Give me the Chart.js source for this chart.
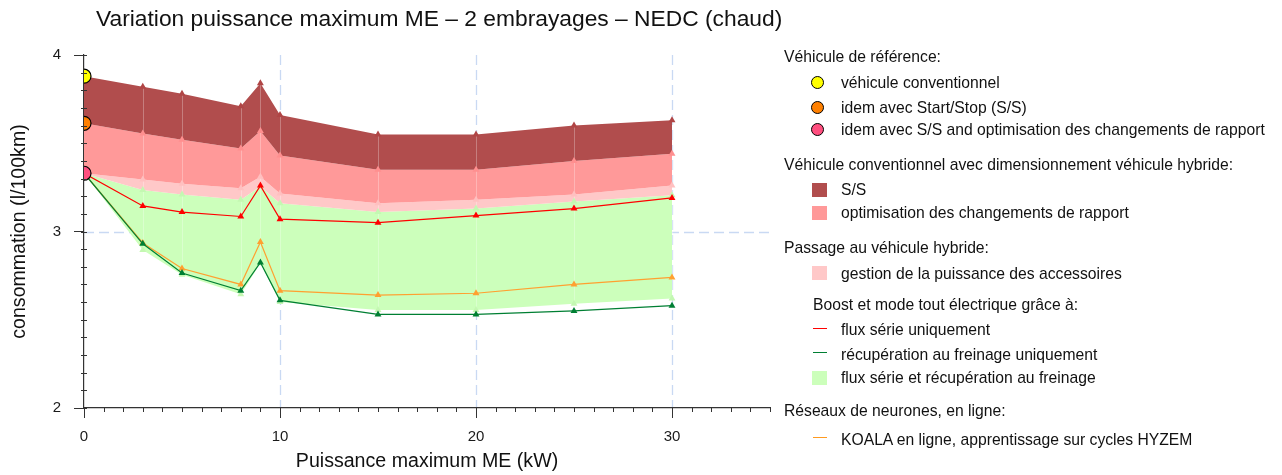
<!DOCTYPE html>
<html>
<head>
<meta charset="utf-8">
<script src="https://cdn.jsdelivr.net/npm/chart.js@4.4.1/dist/chart.umd.min.js"></script>
<style>
    body { margin: 0; background: #fff; }
    #wrap { position: relative; width: 1282px; height: 475px; font-family: 'Liberation Sans', Arial, sans-serif; color: #111; }
    #title { position: absolute; left: 96px; top: 4px; font-size: 22.8px; line-height: 28px; white-space: nowrap; }
    .lg { position: absolute; font-size: 15.7px; line-height: 20px; white-space: nowrap; }
    .sw { position: absolute; }
    .dot { position: absolute; width: 11px; height: 11px; border-radius: 50%; border: 1px solid #000; }
</style>
</head>
<body>
<div id="wrap">
    <div id="title">Variation puissance maximum ME – 2 embrayages – NEDC (chaud)</div>
    <canvas id="chart" width="1282" height="475"></canvas>

    <div class="lg" style="left:784px; top:47px">Véhicule de référence:</div>
    <div class="dot" style="left:811px; top:76px; background:#ffff00"></div>
    <div class="lg" style="left:841px; top:73px">véhicule conventionnel</div>
    <div class="dot" style="left:811px; top:101px; background:#ff8000"></div>
    <div class="lg" style="left:841px; top:98px">idem avec Start/Stop (S/S)</div>
    <div class="dot" style="left:811px; top:123px; background:#ff4f7f"></div>
    <div class="lg" style="left:841px; top:120px">idem avec S/S and optimisation des changements de rapport</div>

    <div class="lg" style="left:784px; top:155px">Véhicule conventionnel avec dimensionnement véhicule hybride:</div>
    <div class="sw" style="left:812px; top:183px; width:15px; height:14px; background:#b14d4d"></div>
    <div class="lg" style="left:841px; top:180px">S/S</div>
    <div class="sw" style="left:812px; top:206px; width:15px; height:14px; background:#ff9999"></div>
    <div class="lg" style="left:841px; top:203px">optimisation des changements de rapport</div>

    <div class="lg" style="left:784px; top:238px">Passage au véhicule hybride:</div>
    <div class="sw" style="left:812px; top:266px; width:15px; height:14px; background:#ffc8c8"></div>
    <div class="lg" style="left:841px; top:264px">gestion de la puissance des accessoires</div>
    <div class="lg" style="left:813px; top:295px">Boost et mode tout électrique grâce à:</div>
    <div class="sw" style="left:813px; top:328px; width:14px; height:1px; background:#ff0000"></div>
    <div class="lg" style="left:841px; top:320px">flux série uniquement</div>
    <div class="sw" style="left:813px; top:352px; width:14px; height:1px; background:#007f33"></div>
    <div class="lg" style="left:841px; top:345px">récupération au freinage uniquement</div>
    <div class="sw" style="left:812px; top:371px; width:15px; height:14px; background:#ccffbb"></div>
    <div class="lg" style="left:841px; top:368px">flux série et récupération au freinage</div>

    <div class="lg" style="left:784px; top:401px">Réseaux de neurones, en ligne:</div>
    <div class="sw" style="left:813px; top:437px; width:14px; height:1px; background:#ff9a20"></div>
    <div class="lg" style="left:841px; top:430px">KOALA en ligne, apprentissage sur cycles HYZEM</div>
</div>

<script>
// puissance maximum ME (kW)
const power = [0, 3, 5, 8, 9, 10, 15, 20, 25, 30];

// bandes (limite haute de chaque zone)
const ssTop = [3.88, 3.82, 3.78, 3.71, 3.84, 3.66, 3.55, 3.55, 3.60, 3.63];
const optTop = [3.613, 3.555, 3.52, 3.47, 3.57, 3.43, 3.35, 3.35, 3.40, 3.44];
const accTop = [3.33, 3.295, 3.27, 3.245, 3.31, 3.215, 3.16, 3.18, 3.21, 3.26];
const greenTop = [3.33, 3.235, 3.21, 3.18, 3.255, 3.16, 3.11, 3.13, 3.17, 3.205];
const greenBottom = [3.33, 2.895, 2.755, 2.645, 2.82, 2.60, 2.555, 2.555, 2.59, 2.62];

// courbes
const serieOnly = [3.33, 3.145, 3.11, 3.085, 3.26, 3.07, 3.05, 3.09, 3.13, 3.19];
const recupOnly = [3.33, 2.93, 2.765, 2.665, 2.825, 2.61, 2.53, 2.53, 2.55, 2.58];
const koala = [3.33, 2.935, 2.79, 2.70, 2.94, 2.665, 2.64, 2.65, 2.70, 2.74];

// véhicules de référence (à 0 kW)
const refValues = [3.88, 3.613, 3.33];
const refColors = ['#ffff00', '#ff8000', '#ff4f7f'];

const xTicks = [0, 10, 20, 30];
const yTicks = [2, 3, 4];
const xMin = 0, xMax = 35, yMin = 2, yMax = 4;

function pts(values) {
    return values.map((v, i) => ({ x: power[i], y: v }));
}

function band(values, color, marker, fill) {
    return {
        data: pts(values),
        backgroundColor: color,
        borderColor: color,
        borderWidth: 0,
        fill: fill,
        pointStyle: 'triangle',
        pointRadius: marker ? 4 : 0,
        pointBackgroundColor: marker,
        pointBorderWidth: 0,
        tension: 0
    };
}

function curve(values, color) {
    return {
        data: pts(values),
        borderColor: color,
        backgroundColor: color,
        borderWidth: 1.2,
        fill: false,
        pointStyle: 'triangle',
        pointRadius: 4,
        pointBackgroundColor: color,
        pointBorderWidth: 0,
        tension: 0
    };
}

const axisExtras = {
    id: 'axisExtras',
    beforeDraw(chart) {
        const { ctx, chartArea: a, scales: { x, y } } = chart;
        ctx.save();
        ctx.strokeStyle = '#c9d9f3';
        ctx.lineWidth = 1.3;
        ctx.setLineDash([10, 5]);
        xTicks.filter(v => v > xMin && v < xMax).forEach(v => {
            const px = Math.round(x.getPixelForValue(v)) + 0.5;
            ctx.beginPath();
            ctx.moveTo(px, a.top);
            ctx.lineTo(px, a.bottom);
            ctx.stroke();
        });
        yTicks.filter(v => v > yMin && v < yMax).forEach(v => {
            const py = Math.round(y.getPixelForValue(v)) + 0.5;
            ctx.beginPath();
            ctx.moveTo(a.left, py);
            ctx.lineTo(a.right, py);
            ctx.stroke();
        });
        ctx.restore();
    },
    beforeDatasetsDraw(chart) {
        // fines coutures claires entre les polygones des zones
        const { ctx, scales: { x, y } } = chart;
        ctx.save();
        ctx.strokeStyle = 'rgba(255,255,255,0.28)';
        ctx.lineWidth = 1;
        power.forEach((p, i) => {
            if (i === 0) return;
            const px = Math.round(x.getPixelForValue(p)) + 0.5;
            ctx.beginPath();
            ctx.moveTo(px, y.getPixelForValue(ssTop[i]));
            ctx.lineTo(px, y.getPixelForValue(greenBottom[i]));
            ctx.stroke();
        });
        ctx.restore();
    },
    afterDraw(chart) {
        const { ctx, chartArea: a, scales: { x, y } } = chart;
        ctx.save();
        ctx.strokeStyle = '#333';
        ctx.lineWidth = 1;
        ctx.beginPath();
        for (let v = xMin; v <= xMax + 1e-9; v += 1) {
            const px = Math.round(x.getPixelForValue(v)) + 0.5;
            ctx.moveTo(px, a.bottom);
            ctx.lineTo(px, a.bottom + 4);
        }
        for (let i = 0; i <= Math.round((yMax - yMin) / 0.1); i++) {
            const py = Math.round(y.getPixelForValue(yMin + i * 0.1)) + 0.5;
            ctx.moveTo(a.left - 3, py);
            ctx.lineTo(a.left + 3, py);
        }
        ctx.stroke();
        ctx.restore();
    }
};

const tickFont = { family: "'Liberation Sans', Arial, sans-serif", size: 15 };
const titleFont = { family: "'Liberation Sans', Arial, sans-serif", size: 19.6 };

new Chart(document.getElementById('chart'), {
    type: 'line',
    data: {
        datasets: [
            {
                data: refValues.map(v => ({ x: 0, y: v })),
                showLine: false,
                pointRadius: 7,
                pointBackgroundColor: refColors,
                pointBorderColor: '#000',
                pointBorderWidth: 1.2
            },
            curve(serieOnly, '#ff0000'),
            curve(recupOnly, '#007f33'),
            curve(koala, '#ffa030'),
            band(ssTop, '#b14d4d', '#b04545', '+1'),
            band(optTop, '#ff9999', '#ff8f8f', '+1'),
            band(accTop, '#ffc8c8', '#ffc0c0', '+1'),
            band(greenTop, '#ccffbb', '#c4f8b2', '+1'),
            band(greenBottom, '#ccffbb', '#c4f8b2', false)
        ]
    },
    options: {
        responsive: false,
        animation: false,
        devicePixelRatio: 1,
        layout: { padding: { left: 0, top: 55, right: 512, bottom: 0 } },
        plugins: {
            legend: { display: false },
            tooltip: { enabled: false },
            filler: { drawTime: 'beforeDatasetsDraw' }
        },
        scales: {
            x: {
                type: 'linear',
                min: xMin,
                max: xMax,
                afterFit: s => { s.height = 67; },
                afterBuildTicks: s => { s.ticks = xTicks.map(v => ({ value: v })); },
                grid: { drawOnChartArea: false, drawTicks: true, tickLength: 10, tickColor: '#333', color: 'transparent' },
                border: { display: true, color: '#333', width: 1.2 },
                ticks: { color: '#1a1a1a', font: tickFont, padding: 10, maxRotation: 0 },
                title: { display: true, text: 'Puissance maximum ME (kW)', color: '#111', font: titleFont, padding: { top: 0, bottom: 2 } }
            },
            y: {
                type: 'linear',
                min: yMin,
                max: yMax,
                afterFit: s => { s.width = 84; },
                afterBuildTicks: s => { s.ticks = yTicks.map(v => ({ value: v })); },
                grid: { drawOnChartArea: false, drawTicks: true, tickLength: 10, tickColor: '#333', color: 'transparent' },
                border: { display: true, color: '#333', width: 1.2 },
                ticks: { color: '#1a1a1a', font: tickFont, padding: 13 },
                title: { display: true, text: 'consommation (l/100km)', color: '#111', font: titleFont, padding: { top: 8, bottom: 0 } }
            }
        }
    },
    plugins: [axisExtras]
});
</script>
</body>
</html>
